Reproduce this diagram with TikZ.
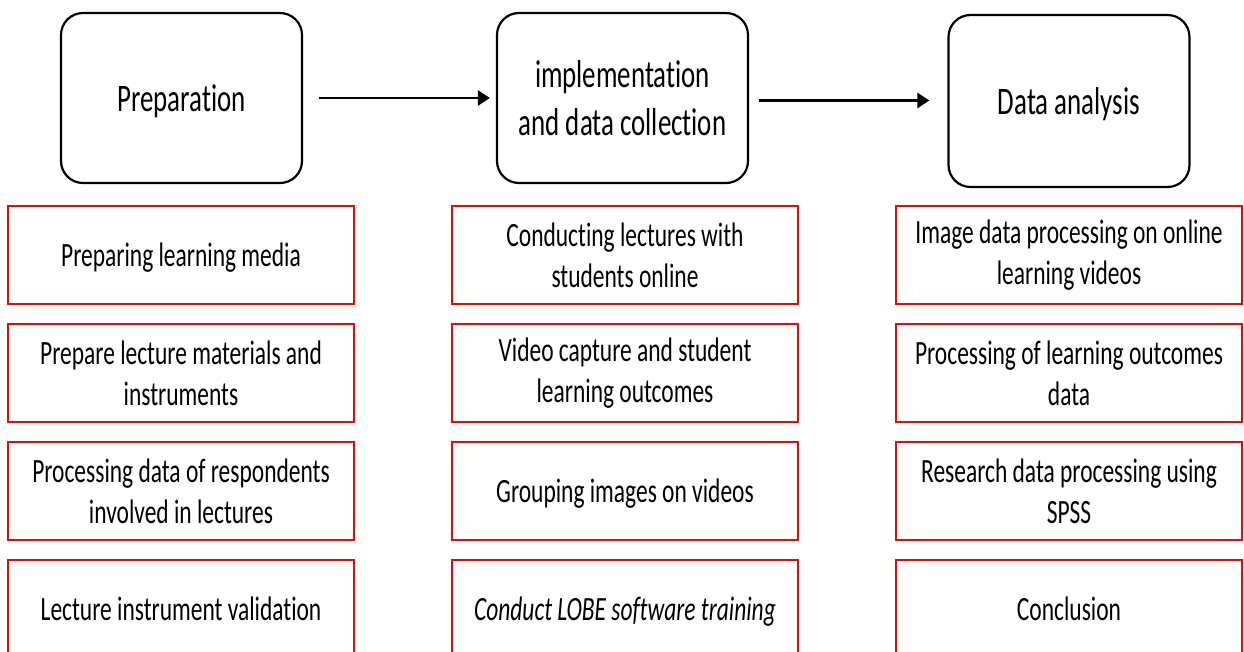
\documentclass[tikz,border=0pt]{standalone}
\usepackage{fontspec}
\setmainfont{Carlito}[FakeStretch=0.69,Ligatures={NoCommon}]
\usetikzlibrary{arrows.meta,calc}
\begin{document}
\begin{tikzpicture}[x=1pt,y=-1pt,
  topbox/.style={draw=black, line width=2.2pt, rounded corners=22pt, align=center,
    font=\fontsize{39}{48}\selectfont, inner sep=0pt},
  redbox/.style={draw=red, line width=2.5pt, minimum width=346pt, minimum height=98pt,
    align=center, font=\fontsize{34}{41}\selectfont, inner sep=0pt},
  oneline/.style={text depth=0pt},
  arr/.style={line width=2.4pt, -{Triangle[length=12pt,width=15pt]}}]
\clip (0,0) rectangle (1244,652);
\fill[white] (0,0) rectangle (1244,652);
% phase boxes
\node[topbox, oneline, minimum width=241pt, minimum height=170pt] (p1) at (181.5,98) {Preparation};
\node[topbox, minimum width=251pt, minimum height=170pt] (p2) at (622.5,98) {implementation\\and data collection};
\node[topbox, oneline, minimum width=241pt, minimum height=172pt] (p3) at (1069,101) {Data analysis};
% arrows
\draw[arr] ($(p1.east)+(16,0)$) -- ($(p2.west)+(-6,0)$);
\draw[arr] ($(p2.east)+(10,2.5)$) -- ($(p3.west)+(-18,-0.5)$);
% column 1
\node[redbox, oneline] (a1) at (181,255) {Preparing learning media};
\node[redbox] (a2) at (181,373) {Prepare lecture materials and\\instruments};
\node[redbox] (a3) at (181,491) {Processing data of respondents\\involved in lectures};
\node[redbox, oneline] (a4) at (181,609) {Lecture instrument validation};
% column 2
\node[redbox] (b1) at (625,255) {Conducting lectures with\\students online};
\node[redbox] (b2) at (625,373) {Video capture and student\\learning outcomes};
\node[redbox, oneline] (b3) at (625,491) {Grouping images on videos};
\node[redbox, oneline] (b4) at (625,609) {\textit{Conduct LOBE software training}};
% column 3
\node[redbox] (c1) at (1069,255) {Image data processing on online\\learning videos};
\node[redbox] (c2) at (1069,373) {Processing of learning outcomes\\data};
\node[redbox] (c3) at (1069,491) {Research data processing using\\SPSS};
\node[redbox, oneline] (c4) at (1069,609) {Conclusion};
\end{tikzpicture}
\end{document}
